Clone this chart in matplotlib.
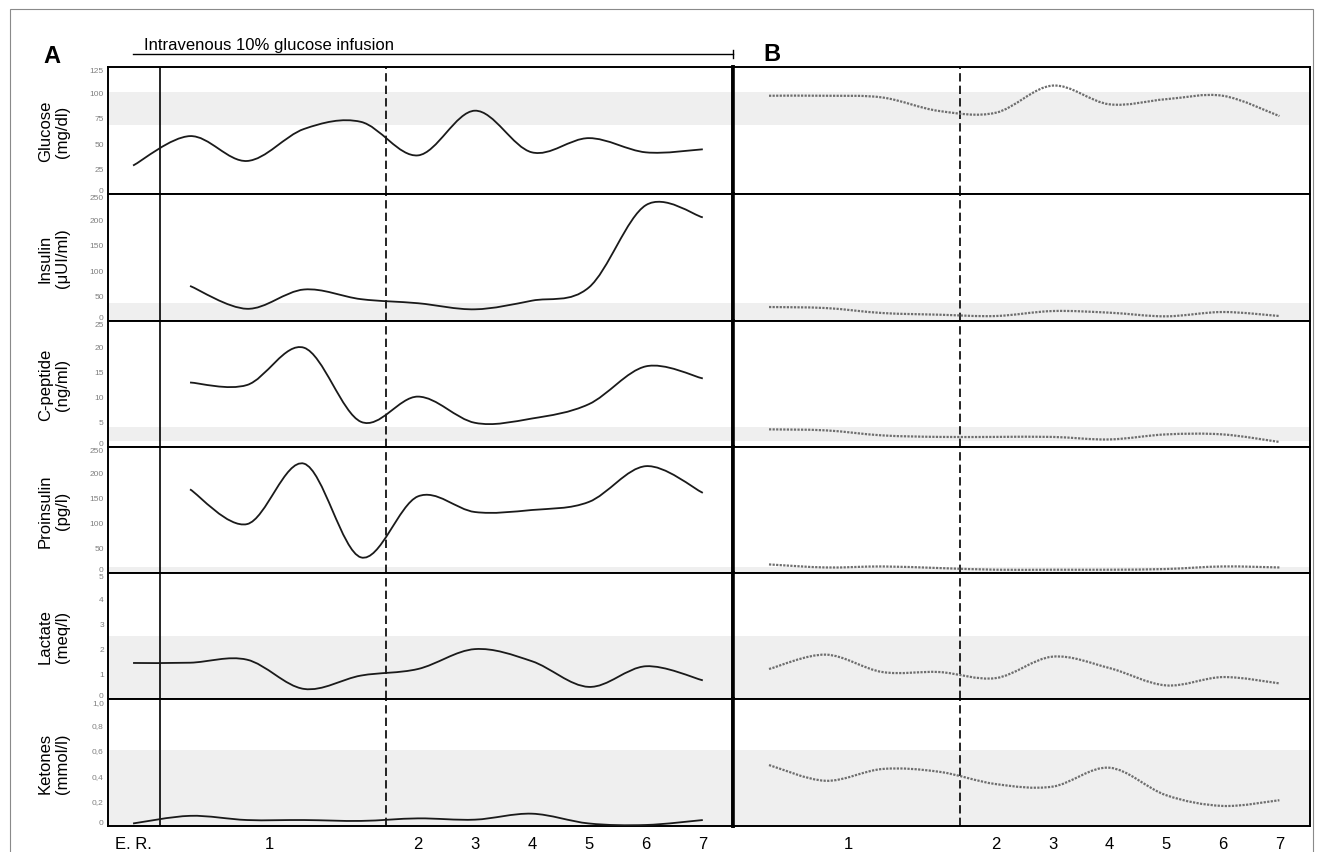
import numpy as np
import matplotlib
matplotlib.use("Agg")
import matplotlib.pyplot as plt
from matplotlib.path import Path
from matplotlib.patches import PathPatch, Rectangle

plt.rcParams['font.family'] = ['Liberation Sans', 'DejaVu Sans']

nan = np.nan

# sample positions: A = E.R. + four samples on day 1 + days 2..7, B = day 1 (x4) + days 2..7
a_pos = np.arange(11)
b_pos = np.arange(1, 11)

glucose_a = [28, 57, 32.5, 64, 71, 38, 82, 41, 55, 41, 44]
glucose_b = [96.7, 96.7, 95, 81.7, 80, 106.7, 88.3, 93.3, 96.7, 76.7]
insulin_a = [nan, 69, 24, 62, 43, 35, 23, 40, 66, 228, 204]
insulin_b = [27.5, 25.5, 15.7, 12.4, 9.8, 19.6, 16.4, 9.2, 17.7, 9.8]
cpep_a = [nan, 12.8, 12.3, 19.7, 5.0, 10, 4.8, 5.65, 8.5, 16, 13.6]
cpep_b = [3.5, 3.3, 2.3, 2.0, 2.0, 2.0, 1.5, 2.5, 2.5, 1.0]
proins_a = [nan, 166, 97, 217, 31, 152, 121, 125, 141, 212, 159]
proins_b = [17, 11, 13, 9.8, 6.5, 6.5, 6.5, 7.9, 13, 11]
lactate_a = [1.43, 1.44, 1.56, 0.4, 0.93, 1.19, 1.98, 1.5, 0.48, 1.3, 0.74]
lactate_b = [1.19, 1.76, 1.07, 1.07, 0.83, 1.68, 1.23, 0.54, 0.87, 0.62]
ketones_a = [0.02, 0.08, 0.047, 0.047, 0.04, 0.06, 0.05, 0.097, 0.02, 0.008, 0.047]
ketones_b = [0.48, 0.356, 0.449, 0.427, 0.33, 0.31, 0.459, 0.243, 0.158, 0.203]

# reference ranges (grey bands)
glucose_band = (68, 100)
insulin_band = (2, 36)
cpep_band = (1.2, 3.9)
proins_band = (1, 12)
lactate_band = (0, 2.5)
ketones_band = (0, 0.6)

glucose_ticks = [0, 25, 50, 75, 100, 125]
insulin_ticks = [0, 50, 100, 150, 200, 250]
cpep_ticks = [0, 5, 10, 15, 20, 25]
proins_ticks = [0, 50, 100, 150, 200, 250]
lactate_ticks = [0, 1, 2, 3, 4, 5]
ketones_ticks = [0, 0.2, 0.4, 0.6, 0.8, 1.0]
ketones_ticklabels = ['0', '0,2', '0,4', '0,6', '0,8', '1,0']

a_xticks = [0, 2.4, 5, 6, 7, 8, 9, 10]
a_xlabels = ['E. R.', '1', '2', '3', '4', '5', '6', '7']
b_xticks = [2.4, 5, 6, 7, 8, 9, 10]
b_xlabels = ['1', '2', '3', '4', '5', '6', '7']

rows = [
    ('Glucose\n(mg/dl)', glucose_a, glucose_b, glucose_ticks, None, glucose_band),
    ('Insulin\n(\u03bcUI/ml)', insulin_a, insulin_b, insulin_ticks, None, insulin_band),
    ('C-peptide\n(ng/ml)', cpep_a, cpep_b, cpep_ticks, None, cpep_band),
    ('Proinsulin\n(pg/l)', proins_a, proins_b, proins_ticks, None, proins_band),
    ('Lactate\n(meq/l)', lactate_a, lactate_b, lactate_ticks, None, lactate_band),
    ('Ketones\n(mmol/l)', ketones_a, ketones_b, ketones_ticks, ketones_ticklabels, ketones_band),
]


def smooth_path(x, y):
    # Excel-like smoothed line: Catmull-Rom through the points as cubic beziers
    pts = np.array([(a, b) for a, b in zip(x, y) if not np.isnan(b)], float)
    n = len(pts)
    verts = [pts[0]]
    codes = [Path.MOVETO]
    for i in range(n - 1):
        p0 = pts[i - 1] if i > 0 else pts[i]
        p3 = pts[i + 2] if i + 2 < n else pts[i + 1]
        verts += [pts[i] + (pts[i + 1] - p0) / 6,
                  pts[i + 1] - (p3 - pts[i]) / 6,
                  pts[i + 1]]
        codes += [Path.CURVE4] * 3
    return Path(verts, codes)


W, H = 1322, 853
fig = plt.figure(figsize=(W / 100, H / 100), dpi=100)

row_edges = [68, 195, 322, 448, 574, 700, 827]
a_left, a_right, b_right = 108, 733, 1310
a_xlim = (-0.44, 10.53)
b_xlim = (0.365, 10.54)
er_line = 0.47
a_dash = 4.44
b_dash = 4.37

fig.patches.append(Rectangle((10 / W, -0.02), (1313 - 10) / W, 1.02 - 10 / H,
                             transform=fig.transFigure, fill=False,
                             ec='#8a8a8a', lw=0.8))

for r, (label, ya, yb, ticks, ticklabels, band) in enumerate(rows):
    top, bot = row_edges[r], row_edges[r + 1]
    y0 = 1 - bot / H
    h = (bot - top) / H
    ax_a = fig.add_axes([a_left / W, y0, (a_right - a_left) / W, h])
    ax_b = fig.add_axes([a_right / W, y0, (b_right - a_right) / W, h])
    ymax = ticks[-1]
    for ax, xlim in ((ax_a, a_xlim), (ax_b, b_xlim)):
        ax.set_xlim(*xlim)
        ax.set_ylim(0, ymax)
        ax.axhspan(band[0], band[1], color='#efefef', lw=0, zorder=0)
        for s in ax.spines.values():
            s.set_linewidth(1.4)
        ax.tick_params(length=0)
    ax_a.spines['right'].set_linewidth(2.6)
    ax_b.spines['left'].set_linewidth(2.6)

    ax_a.axvline(er_line, color='black', lw=1.2)
    ax_a.axvline(a_dash, color='black', lw=1.2, ls=(0, (5, 2.5)))
    ax_b.axvline(b_dash, color='black', lw=1.2, ls=(0, (5, 2.5)))

    ax_a.add_patch(PathPatch(smooth_path(a_pos, ya), fill=False,
                             ec='#1a1a1a', lw=1.3, zorder=3))
    ax_b.add_patch(PathPatch(smooth_path(b_pos, yb), fill=False,
                             ec='#6e6e6e', lw=1.6, ls=(0, (1, 0.6)), zorder=3))

    ax_a.set_yticks(ticks)
    if ticklabels is not None:
        ax_a.set_yticklabels(ticklabels)
    ax_a.tick_params(axis='y', labelsize=6, labelcolor='#808080', pad=3)
    ylabs = ax_a.get_yticklabels()
    ylabs[0].set_verticalalignment('bottom')
    ylabs[-1].set_verticalalignment('top')
    ax_b.set_yticks([])

    ax_a.text(-0.0864, 0.5, label, transform=ax_a.transAxes, rotation=90,
              ha='center', va='center', fontsize=12, multialignment='center')

    if r == len(rows) - 1:
        ax_a.set_xticks(a_xticks)
        ax_a.set_xticklabels(a_xlabels)
        ax_b.set_xticks(b_xticks)
        ax_b.set_xticklabels(b_xlabels)
        for ax in (ax_a, ax_b):
            ax.tick_params(axis='x', labelsize=12, pad=7)
    else:
        ax_a.set_xticks([])
        ax_b.set_xticks([])

    if r == 0:
        tr = ax_a.get_xaxis_transform()
        ax_a.plot([0, a_xlim[1]], [1.102, 1.102], color='black', lw=1.0,
                  transform=tr, clip_on=False)
        ax_a.plot([a_xlim[1], a_xlim[1]], [1.07, 1.13], color='black', lw=1.0,
                  transform=tr, clip_on=False)
        ax_a.text(0.2, 1.175, 'Intravenous 10% glucose infusion', transform=tr,
                  ha='left', va='center', fontsize=12)
        ax_a.text(-0.09, 1.09, 'A', transform=ax_a.transAxes, ha='center',
                  va='center', fontsize=17, fontweight='bold')
        ax_b.text(0.068, 1.105, 'B', transform=ax_b.transAxes, ha='center',
                  va='center', fontsize=17, fontweight='bold')

fig.savefig('out.png', dpi=100)
